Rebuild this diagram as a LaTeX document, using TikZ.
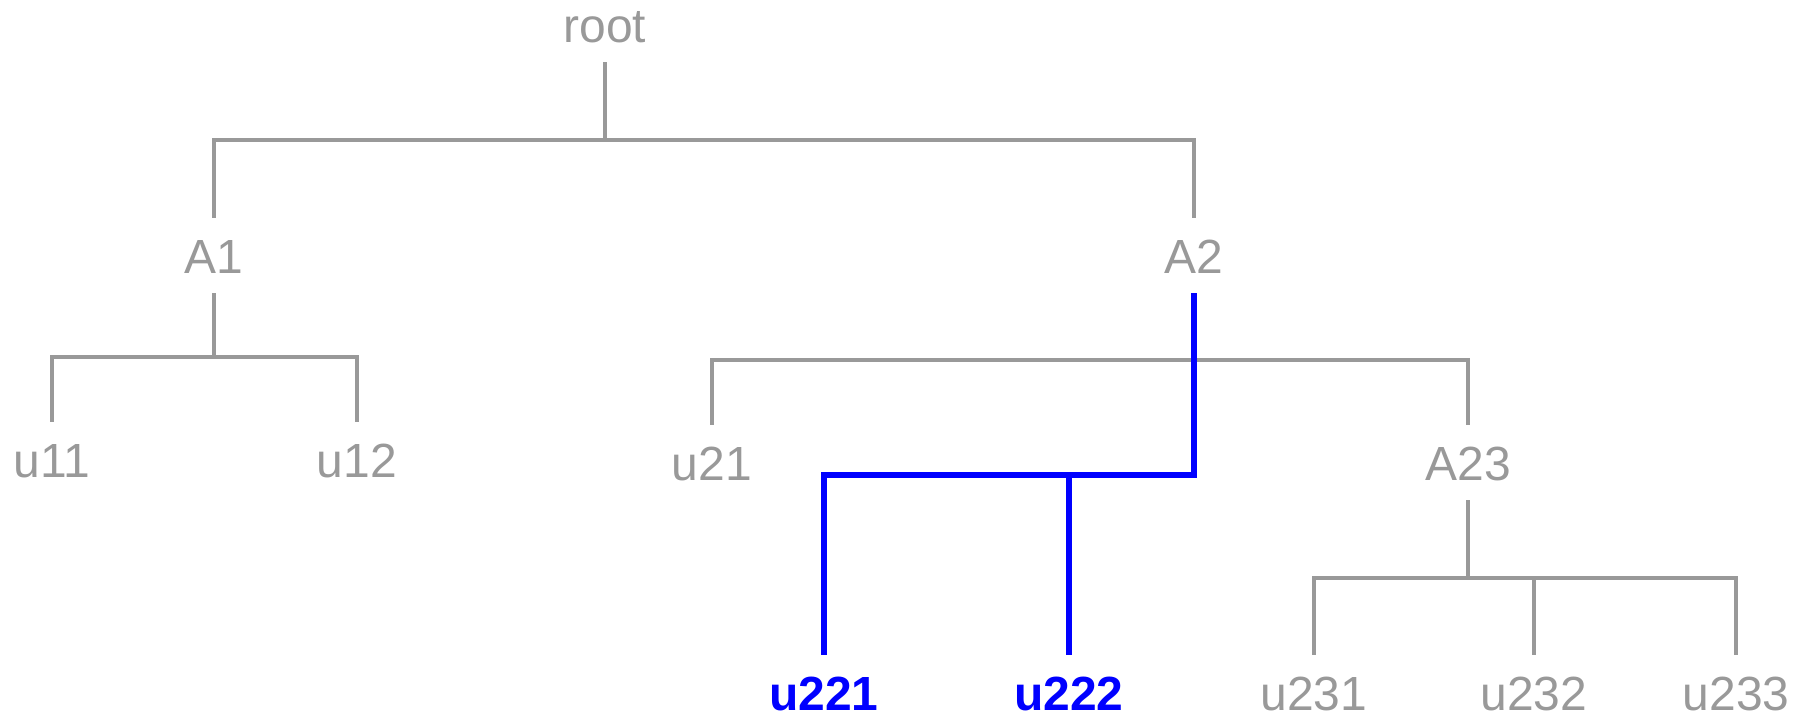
\documentclass[tikz,border=0pt]{standalone}
\usepackage{fontspec}
\setmainfont{Liberation Sans}
\usepackage{tikz}
\usetikzlibrary{positioning, calc}
\usepackage{xcolor}
\definecolor{tgray}{HTML}{999999}
\definecolor{tblue}{HTML}{0000FF}
\tikzset{
  lbl/.style={text=tgray, anchor=base, inner xsep=0pt, inner ysep=0.4cm,
              text height=0.7cm, text depth=0pt, font=\fontsize{27.3}{33}\selectfont},
  hlbl/.style={lbl, text=tblue, font=\fontsize{27.3}{33}\selectfont\bfseries},
  gline/.style={draw=tgray, line width=2pt},
  bline/.style={draw=tblue, line width=3.4pt},
}
\begin{document}
\begin{tikzpicture}[x=0.02cm, y=-0.02cm]
  \useasboundingbox (0,0) rectangle (1803,717);

  \node[lbl] (root) at (605, 42) {root};

  \node[lbl] (A1) at (214, 273) {A1};
  \node[lbl] (A2) at (1194, 273) {A2};

  \node[lbl] (u11) at (52, 477) {u11};
  \node[lbl] (u12) at (357, 477) {u12};
  \node[lbl] (u21) at (712, 480) {u21};
  \node[lbl] (A23) at (1468, 480) {A23};

  \node[hlbl] (u221) at (824, 710) {u221};
  \node[hlbl] (u222) at (1069, 710) {u222};
  \node[lbl] (u231) at (1314, 710) {u231};
  \node[lbl] (u232) at (1534, 710) {u232};
  \node[lbl] (u233) at (1736, 710) {u233};

  \coordinate (bar0) at (605, 140);
  \coordinate (bar1) at (214, 357);
  \coordinate (bar2) at (1194, 360);
  \coordinate (bar22) at (1069, 475);
  \coordinate (bar23) at (1468, 578);

  \draw[gline] (root.south) -- (bar0);
  \draw[gline] (A1.north) |- (bar0) -| (A2.north);
  \draw[gline] (A1.south) -- (bar1);
  \draw[gline] (u11.north) |- (bar1) -| (u12.north);
  \draw[gline] (u21.north) |- (bar2) -| (A23.north);
  \draw[gline] (A23.south) -- (bar23);
  \draw[gline] (u231.north) |- (bar23) -| (u233.north);
  \draw[gline] (bar23) -| (u232.north);

  \draw[bline] (A2.south) |- (bar22) -| (u221.north);
  \draw[bline] (bar22) -- (u222.north);
\end{tikzpicture}
\end{document}
